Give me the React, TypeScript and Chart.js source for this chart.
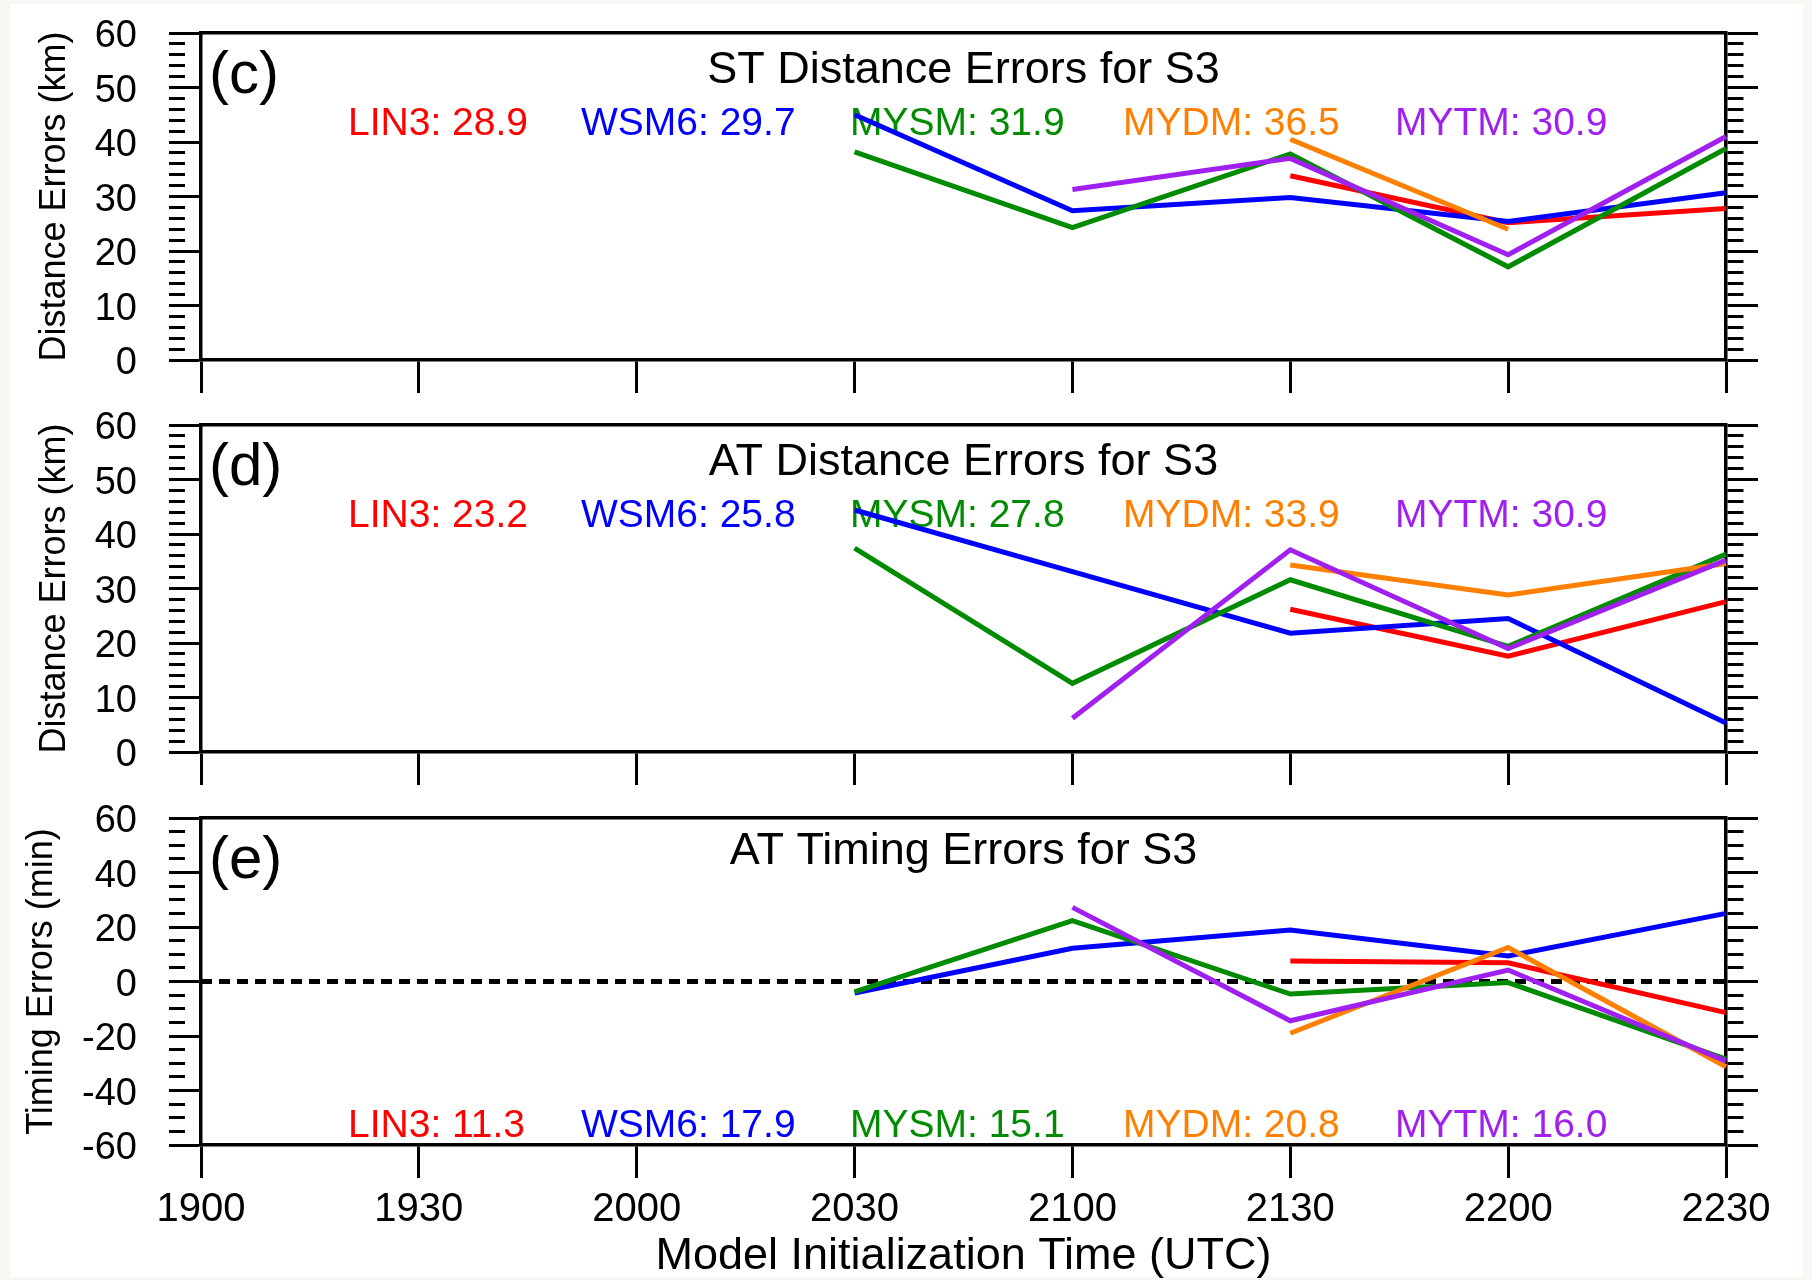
import React, { useEffect, useRef } from 'react';
import { Chart, registerables } from 'chart.js';

Chart.register(...registerables);

const FONT = "'Liberation Sans', Arial, Helvetica, sans-serif";
Chart.defaults.font.family = FONT;
Chart.defaults.color = '#000';

// ---------- data ----------
const TIMES = ['1900', '1930', '2000', '2030', '2100', '2130', '2200', '2230'];
const MODELS = ['LIN3', 'WSM6', 'MYSM', 'MYDM', 'MYTM'];

// (c) ST distance errors (km)
const ST_LIN3 = [null, null, null, null, null, 33.8, 25.2, 27.8];
const ST_WSM6 = [null, null, null, 45.0, 27.4, 29.8, 25.4, 30.7];
const ST_MYSM = [null, null, null, 38.2, 24.3, 37.8, 17.1, 38.8];
const ST_MYDM = [null, null, null, null, null, 40.5, 24.0, null];
const ST_MYTM = [null, null, null, null, 31.3, 37.0, 19.3, 41.0];
const ST_SCORES = [28.9, 29.7, 31.9, 36.5, 30.9];

// (d) AT distance errors (km)
const AT_LIN3 = [null, null, null, null, null, 26.2, 17.6, 27.6];
const AT_WSM6 = [null, null, null, 44.4, 33.1, 21.8, 24.5, 5.3];
const AT_MYSM = [null, null, null, 37.4, 12.6, 31.6, 19.4, 36.3];
const AT_MYDM = [null, null, null, null, null, 34.3, 28.8, 34.6];
const AT_MYTM = [null, null, null, null, 6.2, 37.1, 19.0, 35.2];
const AT_SCORES = [23.2, 25.8, 27.8, 33.9, 30.9];

// (e) AT timing errors (min)
const TM_LIN3 = [null, null, null, null, null, 7.5, 6.9, -11.4];
const TM_WSM6 = [null, null, null, -4.2, 12.2, 18.9, 9.4, 25.0];
const TM_MYSM = [null, null, null, -3.8, 22.3, -4.6, -0.4, -28.5];
const TM_MYDM = [null, null, null, null, null, -19.0, 12.5, -31.3];
const TM_MYTM = [null, null, null, null, 27.2, -14.4, 4.2, -29.2];
const TM_SCORES = [11.3, 17.9, 15.1, 20.8, 16.0];
const ZERO_LINE = [0, 0, 0, 0, 0, 0, 0, 0];

const DIST_RANGE = { min: 0, max: 60, major: 10, minor: 2 };
const TIME_RANGE = { min: -60, max: 60, major: 20, minor: 5 };

// ---------- styles / layout ----------
const COLORS = ['#ff0000', '#0000ff', '#008b00', '#ff8000', '#a020f0'];
const LEGEND_X = [348, 581, 850, 1123, 1395];
const W = 1812;
const PAD_TOP = 53;

const PANELS = [
  {
    tag: '(c)', title: 'ST Distance Errors for S3', yTitle: 'Distance Errors (km)',
    series: [ST_LIN3, ST_WSM6, ST_MYSM, ST_MYDM, ST_MYTM], scores: ST_SCORES, range: DIST_RANGE,
    top: 33 - PAD_TOP, height: 431, padBottom: 16, xHeight: 35, showX: false,
    titleDy: 50, legendDy: 102, yTitlePad: 37, zero: false,
  },
  {
    tag: '(d)', title: 'AT Distance Errors for S3', yTitle: 'Distance Errors (km)',
    series: [AT_LIN3, AT_WSM6, AT_MYSM, AT_MYDM, AT_MYTM], scores: AT_SCORES, range: DIST_RANGE,
    top: 425 - PAD_TOP, height: 431, padBottom: 16, xHeight: 35, showX: false,
    titleDy: 50, legendDy: 102, yTitlePad: 37, zero: false,
  },
  {
    tag: '(e)', title: 'AT Timing Errors for S3', yTitle: 'Timing Errors (min)',
    series: [TM_LIN3, TM_WSM6, TM_MYSM, TM_MYDM, TM_MYTM], scores: TM_SCORES, range: TIME_RANGE,
    top: 818 - PAD_TOP, height: 515, padBottom: 1, xHeight: 134, showX: true,
    titleDy: 46, legendDy: 319, yTitlePad: 24, zero: true,
  },
];

function makeConfig(p: any) {
  const r = p.range;
  const isMajor = (v: number) => Math.abs(v % r.major) < 1e-6;
  const yGrid = {
    drawOnChartArea: false,
    drawTicks: true,
    tickLength: 32,
    tickWidth: 3,
    tickColor: '#000',
    tickBorderDash: (ctx: any) => (ctx.tick && isMajor(ctx.tick.value) ? [] : [16, 200]),
  };
  const datasets: any[] = p.series.map((vals: any[], i: number) => ({
    label: MODELS[i],
    data: vals,
    borderColor: COLORS[i],
    backgroundColor: COLORS[i],
    borderWidth: 5,
    pointRadius: 0,
    pointHoverRadius: 0,
    fill: false,
    tension: 0,
    order: 5 - i,
  }));
  if (p.zero) {
    datasets.push({
      label: 'zero',
      data: ZERO_LINE,
      borderColor: '#000',
      borderWidth: 5,
      borderDash: [11, 7],
      pointRadius: 0,
      fill: false,
      order: 10,
    });
  }
  return {
    type: 'line',
    data: { labels: TIMES, datasets },
    options: {
      animation: false,
      responsive: false,
      devicePixelRatio: 1,
      events: [],
      layout: { padding: { top: PAD_TOP, bottom: p.padBottom, left: 0, right: 0 } },
      plugins: { legend: { display: false }, tooltip: { enabled: false } },
      scales: {
        x: {
          type: 'category',
          position: 'bottom',
          offset: false,
          grid: { drawOnChartArea: false, drawTicks: true, tickLength: 33, tickWidth: 3, tickColor: '#000', offset: false },
          border: { display: true, color: '#000', width: 3.5 },
          ticks: { display: p.showX, autoSkip: false, maxRotation: 0, padding: 12, color: '#000', font: { size: 40, lineHeight: 1 } },
          title: {
            display: p.showX,
            text: 'Model Initialization Time (UTC)',
            color: '#000',
            font: { size: 45, lineHeight: 1 },
            padding: { top: 0, bottom: 0 },
          },
          afterFit: (s: any) => { s.height = p.xHeight; },
        },
        xTop: {
          type: 'category',
          position: 'top',
          offset: false,
          grid: { drawOnChartArea: false, drawTicks: false },
          border: { display: true, color: '#000', width: 3.5 },
          ticks: { display: false },
          afterFit: (s: any) => { s.height = 0; },
        },
        y: {
          type: 'linear',
          position: 'left',
          min: r.min,
          max: r.max,
          grid: yGrid,
          border: { display: true, color: '#000', width: 3.5 },
          ticks: {
            stepSize: r.minor,
            autoSkip: false,
            padding: 32,
            labelOffset: 4,
            color: '#000',
            font: { size: 38, lineHeight: 1 },
            callback: (v: any) => (isMajor(Number(v)) ? String(v) : ''),
          },
          title: {
            display: true,
            text: p.yTitle,
            color: '#000',
            font: { size: 36, lineHeight: 1 },
            padding: { top: p.yTitlePad, bottom: 0 },
          },
          afterFit: (s: any) => { s.width = 201; },
        },
        yRight: {
          type: 'linear',
          position: 'right',
          min: r.min,
          max: r.max,
          grid: yGrid,
          border: { display: true, color: '#000', width: 3.5 },
          ticks: { display: false, stepSize: r.minor, autoSkip: false },
          afterFit: (s: any) => { s.width = 86; },
        },
      },
    },
    plugins: [
      {
        id: 'panelText',
        beforeDatasetsDraw(chart: any) {
          const { ctx, chartArea: a } = chart;
          ctx.save();
          ctx.textBaseline = 'alphabetic';
          ctx.fillStyle = '#000';
          ctx.textAlign = 'center';
          ctx.font = `45px ${FONT}`;
          ctx.fillText(p.title, (a.left + a.right) / 2, a.top + p.titleDy);
          ctx.textAlign = 'left';
          ctx.font = `60px ${FONT}`;
          ctx.fillText(p.tag, a.left + 8, a.top + 60);
          ctx.font = `39px ${FONT}`;
          MODELS.forEach((m, i) => {
            ctx.fillStyle = COLORS[i];
            ctx.fillText(`${m}: ${p.scores[i].toFixed(1)}`, LEGEND_X[i], a.top + p.legendDy);
          });
          ctx.restore();
        },
      },
    ],
  };
}

function Panel({ p }: { p: any }) {
  const ref = useRef<HTMLCanvasElement | null>(null);
  useEffect(() => {
    if (!ref.current) return;
    const chart = new Chart(ref.current, makeConfig(p) as any);
    return () => chart.destroy();
  }, [p]);
  return (
    <canvas
      ref={ref}
      width={W}
      height={p.height}
      style={{ position: 'absolute', left: 0, top: p.top, width: W, height: p.height }}
    />
  );
}

export default function App() {
  return (
    <div style={{ position: 'absolute', left: 0, top: 0, width: W, height: 1280, background: '#f6f8f3', overflow: 'hidden' }}>
      <div style={{ position: 'absolute', left: 10, top: 4, width: 1793, height: 1273, background: '#ffffff' }} />
      {PANELS.map((p, i) => (
        <Panel key={i} p={p} />
      ))}
    </div>
  );
}
